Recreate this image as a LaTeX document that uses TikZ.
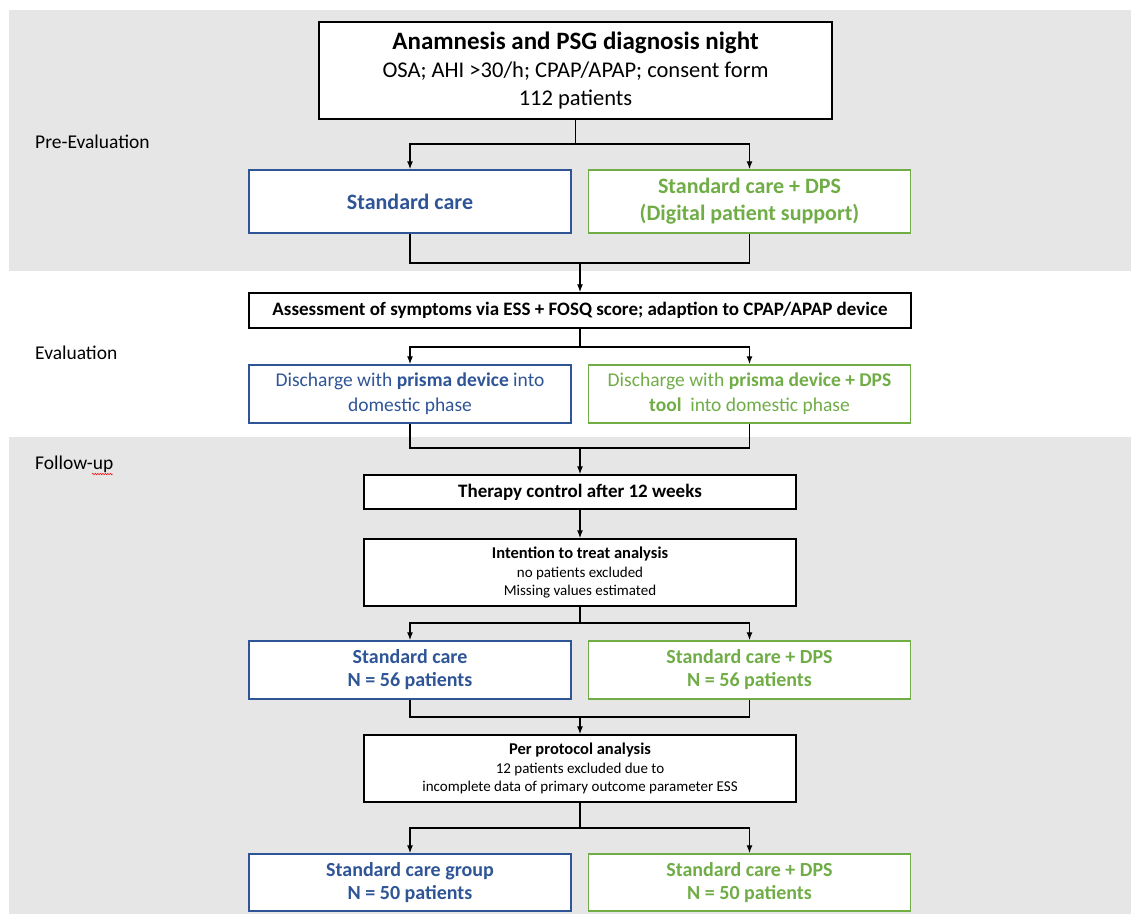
\documentclass[tikz,border=0pt]{standalone}
\usepackage{fontspec}
\setmainfont{Carlito}
\usetikzlibrary{arrows.meta,decorations.pathmorphing}
\definecolor{bandgray}{HTML}{E7E6E6}
\definecolor{sblue}{HTML}{2F5597}
\definecolor{sgreen}{HTML}{70AD47}
\tikzset{
  box/.style={draw=black,line width=1.5pt,fill=white,align=center,inner sep=0pt},
  bluebox/.style={box,draw=sblue,text=sblue},
  greenbox/.style={box,draw=sgreen,text=sgreen},
  conn/.style={line width=1.3pt,draw=black},
  arr/.style={conn,-{Latex[length=8pt,width=6pt]}},
  phase/.style={anchor=west,font=\fontsize{19.5}{22}\selectfont,inner sep=0pt},
  sidew/.style={minimum width=322pt},
  midw/.style={minimum width=432pt},
}
\begin{document}
\begin{tikzpicture}[x=1pt,y=-1pt]
\useasboundingbox (0,0) rectangle (1131,914);
\fill[white] (0,0) rectangle (1131,914);
\fill[bandgray] (9,10) rectangle (1131,271);
\fill[bandgray] (9,437) rectangle (1131,914);

% phase labels
\node[phase] (lpre) at (35,142) {Pre-Evaluation};
\node[phase] (leval) at (35,353) {Evaluation};
\node[phase] (lfol) at (35,464) {Follow-up};
\draw[red,line width=0.5pt,decorate,decoration={snake,amplitude=0.7pt,segment length=2.5pt}] (92,474) -- (113,474);

% boxes
\node[box,minimum width=513pt,minimum height=97pt,font=\fontsize{22.5}{28}\selectfont] (top) at (575.5,70.5)
  {{\fontsize{25}{28}\selectfont\bfseries Anamnesis and PSG diagnosis night}\\OSA; AHI >30/h; CPAP/APAP; consent form\\112 patients};

\node[bluebox,sidew,minimum height=63pt,font=\fontsize{22}{27}\selectfont\bfseries] (sc1) at (410,201.5) {Standard care};
\node[greenbox,sidew,minimum height=63pt,font=\fontsize{22}{27}\selectfont\bfseries] (dps1) at (749.5,201.5) {Standard care + DPS\\(Digital patient support)};

\node[box,minimum width=662pt,minimum height=35pt,font=\fontsize{19}{22}\selectfont\bfseries] (assess) at (580,310.5)
  {Assessment of symptoms via ESS + FOSQ score; adaption to CPAP/APAP device};

\node[bluebox,sidew,minimum height=58pt,font=\fontsize{19.5}{25}\selectfont] (dis1) at (410,394)
  {Discharge with \textbf{prisma device} into\\domestic phase};
\node[greenbox,sidew,minimum height=58pt,font=\fontsize{19.5}{25}\selectfont] (dis2) at (749.5,394)
  {Discharge with \textbf{prisma device + DPS}\\\textbf{tool}\ \ into domestic phase};

\node[box,midw,minimum height=34pt,font=\fontsize{19}{22}\selectfont\bfseries] (ther) at (580,492)
  {Therapy control after 12 weeks};

\node[box,midw,minimum height=67pt,font=\fontsize{15}{18.5}\selectfont] (itt) at (580,572.5)
  {{\fontsize{16.5}{18.5}\selectfont\bfseries Intention to treat analysis}\\no patients excluded\\Missing values estimated};

\node[bluebox,sidew,minimum height=58pt,font=\fontsize{20}{23}\selectfont\bfseries] (sc3) at (410,670)
  {Standard care\\N = 56 patients};
\node[greenbox,sidew,minimum height=58pt,font=\fontsize{20}{23}\selectfont\bfseries] (dps3) at (749.5,670)
  {Standard care + DPS\\N = 56 patients};

\node[box,midw,minimum height=67pt,font=\fontsize{15}{18.5}\selectfont] (pp) at (580,768.5)
  {{\fontsize{16.5}{18.5}\selectfont\bfseries Per protocol analysis}\\12 patients excluded due to\\incomplete data of primary outcome parameter ESS};

\node[bluebox,sidew,minimum height=57pt,font=\fontsize{20}{23}\selectfont\bfseries] (sc4) at (410,882.5)
  {Standard care group\\N = 50 patients};
\node[greenbox,sidew,minimum height=57pt,font=\fontsize{20}{23}\selectfont\bfseries] (dps4) at (749.5,882.5)
  {Standard care + DPS\\N = 50 patients};

% branch / join points
\coordinate (b1) at (575.5,144);
\coordinate (j1) at (580,263);
\coordinate (b2) at (580,347);
\coordinate (j2) at (580,448);
\coordinate (b3) at (580,623);
\coordinate (j3) at (580,717);
\coordinate (b4) at (580,828);

% connectors
\draw[conn] (top.south) -- (b1);
\draw[arr] (b1) -| (sc1.north);
\draw[arr] (b1) -| (dps1.north);
\draw[conn] (sc1.south) |- (j1);
\draw[conn] (dps1.south) |- (j1);
\draw[arr] (j1) -- (assess.north);

\draw[conn] (assess.south) -- (b2);
\draw[arr] (b2) -| (dis1.north);
\draw[arr] (b2) -| (dis2.north);
\draw[conn] (dis1.south) |- (j2);
\draw[conn] (dis2.south) |- (j2);
\draw[arr] (j2) -- (ther.north);

\draw[arr] (ther.south) -- (itt.north);

\draw[conn] (itt.south) -- (b3);
\draw[arr] (b3) -| (sc3.north);
\draw[arr] (b3) -| (dps3.north);
\draw[conn] (sc3.south) |- (j3);
\draw[conn] (dps3.south) |- (j3);
\draw[arr] (j3) -- (pp.north);

\draw[conn] (pp.south) -- (b4);
\draw[arr] (b4) -| (sc4.north);
\draw[arr] (b4) -| (dps4.north);
\end{tikzpicture}
\end{document}
